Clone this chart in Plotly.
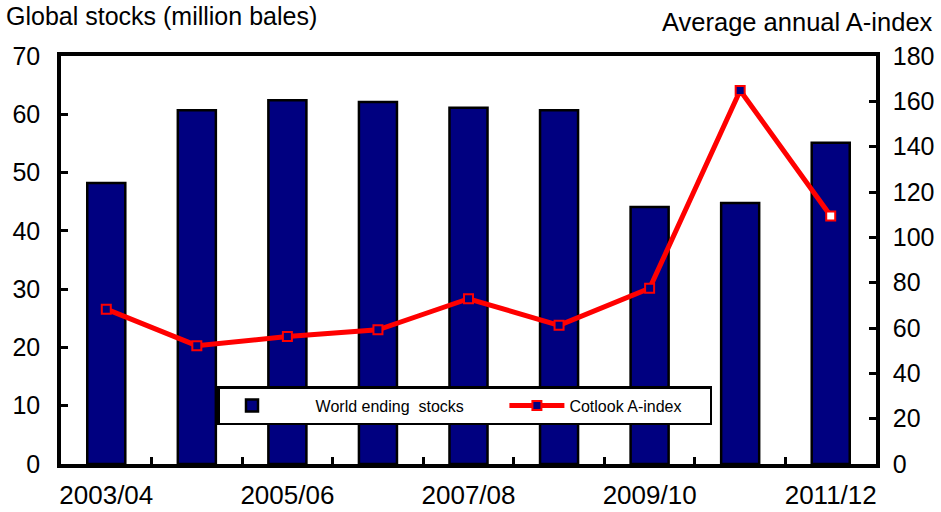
import plotly.graph_objects as go

seasons = ["2003/04", "2004/05", "2005/06", "2006/07", "2007/08",
           "2008/09", "2009/10", "2010/11", "2011/12"]
tick_labels = ["2003/04", "", "2005/06", "", "2007/08", "", "2009/10", "", "2011/12"]
world_stocks = [48.2, 60.7, 62.4, 62.1, 61.1, 60.7, 44.1, 44.8, 55.1]
a_index = [68.3, 52.2, 56.2, 59.2, 72.9, 61.2, 77.5, 164.8, 109.4]

NAVY = "#000080"
FONT = "Liberation Sans, Arial, sans-serif"
NB = "\u00a0"

fig = go.Figure()
fig.add_trace(go.Bar(
    x=seasons, y=world_stocks,
    name=NB * 7 + "World ending  stocks".replace(" ", NB) + NB * 8,
    marker=dict(color=NAVY, line=dict(color="black", width=2.5)),
    width=0.42, yaxis="y",
))
fig.add_trace(go.Scatter(
    x=seasons, y=a_index, name="Cotlook A-index" + NB * 5, mode="lines+markers",
    line=dict(color="#ff0000", width=5),
    marker=dict(symbol="square", size=9,
                color=[NAVY] * (len(seasons) - 1) + ["white"],
                line=dict(color="#ff0000", width=2)),
    yaxis="y2",
))

fig.update_layout(
    width=941, height=512,
    margin=dict(l=61, r=65, t=56, b=48),
    paper_bgcolor="white", plot_bgcolor="white",
    font=dict(family=FONT, color="black"),
    showlegend=True,
    legend=dict(
        orientation="h", x=(217 - 61) / 815, y=(464 - 386) / 408,
        xanchor="left", yanchor="top",
        bgcolor="white", bordercolor="black", borderwidth=2.5,
        font=dict(size=16, family=FONT), itemwidth=55,
    ),
    xaxis=dict(
        type="category", categoryorder="array", categoryarray=seasons,
        range=[-0.5, 8.5], automargin=False, tickangle=0,
        tickmode="array", tickvals=seasons, ticktext=tick_labels,
        tickson="boundaries", ticks="inside", ticklen=7, tickwidth=2.5, tickcolor="black",
        showline=True, linecolor="black", linewidth=3.5, mirror=True,
        showgrid=False, zeroline=False,
        tickfont=dict(size=26, family=FONT), ticklabelstandoff=5,
    ),
    yaxis=dict(
        range=[0, 70], dtick=10, tick0=0, automargin=False,
        ticks="inside", ticklen=7, tickwidth=2.5, tickcolor="black",
        showline=True, linecolor="black", linewidth=3.5,
        showgrid=False, zeroline=False,
        tickfont=dict(size=25, family=FONT), ticklabelstandoff=12,
    ),
    yaxis2=dict(
        range=[0, 180], dtick=20, tick0=0, overlaying="y", side="right",
        automargin=False,
        ticks="inside", ticklen=7, tickwidth=2.5, tickcolor="black",
        showline=True, linecolor="black", linewidth=3.5,
        showgrid=False, zeroline=False,
        tickfont=dict(size=25, family=FONT), ticklabelstandoff=8,
    ),
    annotations=[
        dict(text="Global stocks (million bales)", xref="paper", yref="paper",
             x=-57 / 815, y=1 + 40 / 408, xanchor="left", yanchor="middle",
             showarrow=False, font=dict(size=25, family=FONT)),
        dict(text="Average annual A-index", xref="paper", yref="paper",
             x=1 + 59 / 815, y=1 + 34 / 408, xanchor="right", yanchor="middle",
             showarrow=False, font=dict(size=25.5, family=FONT)),
    ],
)

fig.write_html("out.html", config={"displayModeBar": False},
               post_script="document.body.style.margin='0px';")
